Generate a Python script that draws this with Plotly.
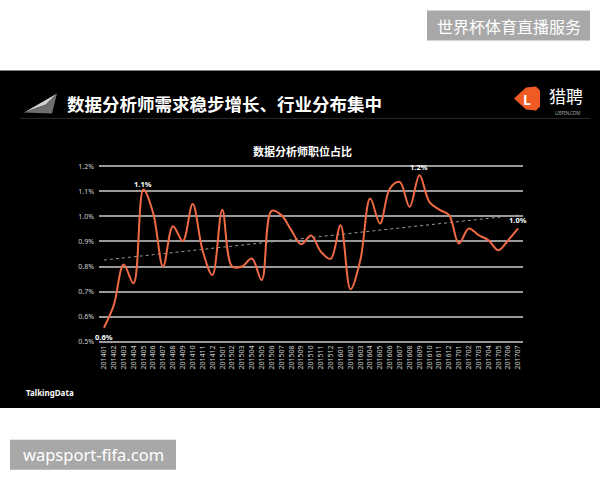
import plotly.graph_objects as go
import numpy as np

# ---------------- data ----------------
months = ["201401", "201402", "201403", "201404", "201405", "201406", "201407", "201408",
          "201409", "201410", "201411", "201412", "201501", "201502", "201503", "201504",
          "201505", "201506", "201507", "201508", "201509", "201510", "201511", "201512",
          "201601", "201602", "201603", "201604", "201605", "201606", "201607", "201608",
          "201609", "201610", "201611", "201612", "201701", "201702", "201703", "201704",
          "201705", "201706", "201707"]
share_pct = [0.556, 0.646, 0.808, 0.733, 1.107, 1.012, 0.800, 0.961, 0.902, 1.049,
             0.865, 0.766, 1.027, 0.800, 0.800, 0.832, 0.746, 1.022, 1.005, 0.945,
             0.889, 0.924, 0.859, 0.831, 0.965, 0.709, 0.825, 1.071, 0.972, 1.111,
             1.137, 1.038, 1.164, 1.058, 1.027, 1.005, 0.892, 0.952, 0.925, 0.905,
             0.865, 0.905, 0.952]
label_idx = [0, 4, 32, 42]
label_text = ["0.6%", "1.1%", "1.2%", "1.0%"]
label_shift = [-9, 6, 8, 8]
y_ticks = [0.5, 0.6, 0.7, 0.8, 0.9, 1.0, 1.1, 1.2]

headline = "数据分析师需求稳步增长、行业分布集中"
chart_title = "数据分析师职位占比"
source = "TalkingData"
brand = "猎聘"
brand_sub = "LIEPIN.COM"
wm_top = "世界杯体育直播服务"
wm_bottom = "wapsport-fifa.com"

# ---------------- geometry helpers (pixel -> paper) ----------------
PL, PR, PT, PB = 99.0, 523.0, 164.7, 343.0
W, H = 600, 480


def px(x):
    return (x - PL) / (PR - PL)


def py(y):
    return (PB - y) / (PB - PT)


def path(points):
    s = "M " + " L ".join(f"{px(x):.5f},{py(y):.5f}" for x, y in points) + " Z"
    return s


CJK = "Noto Sans CJK SC"
LAT = "Noto Sans"

# trend line from data (linear fit)
idx = np.arange(len(share_pct))
coef = np.polyfit(idx, share_pct, 1)
trend = np.polyval(coef, idx)

fig = go.Figure()
fig.add_trace(go.Scatter(x=months, y=trend, mode="lines",
                         line=dict(color="#9a9a9a", width=1, dash="dot"),
                         hoverinfo="skip"))
fig.add_trace(go.Scatter(x=months, y=share_pct, mode="lines",
                         line=dict(color="#ef6a45", width=2, shape="spline", smoothing=1.0)))

shapes = []
# black slide background
shapes.append(dict(type="rect", xref="paper", yref="paper", layer="below",
                   x0=px(0), x1=px(W), y0=py(408), y1=py(70),
                   fillcolor="black", line=dict(width=0)))
# faint header underline
shapes.append(dict(type="line", xref="paper", yref="paper", layer="below",
                   x0=px(20), x1=px(590), y0=py(118), y1=py(118),
                   line=dict(color="#2a2a2a", width=1)))
# left icon (pyramid / paper plane)
shapes.append(dict(type="path", xref="paper", yref="paper",
                   path=path([(24, 112), (57, 93), (46, 104)]),
                   fillcolor="#cfcfcf", line=dict(width=0)))
shapes.append(dict(type="path", xref="paper", yref="paper",
                   path=path([(24, 112), (46, 104), (57, 93), (52, 113)]),
                   fillcolor="#6e6e6e", line=dict(width=0)))
# orange logo
shapes.append(dict(type="path", xref="paper", yref="paper",
                   path=path([(514, 98), (526, 87), (536, 86), (540, 90), (540, 106),
                              (536, 110), (526, 109)]),
                   fillcolor="#f05a23", line=dict(width=0)))
# watermark boxes
shapes.append(dict(type="rect", xref="paper", yref="paper",
                   x0=px(427), x1=px(590), y0=py(40), y1=py(10),
                   fillcolor="#a8a8a8", line=dict(width=0)))
shapes.append(dict(type="rect", xref="paper", yref="paper",
                   x0=px(10), x1=px(176), y0=py(470), y1=py(440),
                   fillcolor="#a8a8a8", line=dict(width=0)))

ann = []


def text(x, y, t, size, color="white", family=CJK, bold=False, xanchor="center"):
    ann.append(dict(xref="paper", yref="paper", x=px(x), y=py(y), text=(f"<b>{t}</b>" if bold else t),
                    showarrow=False, xanchor=xanchor, yanchor="middle",
                    font=dict(size=size, color=color, family=family)))


text(65, 103, headline, 17.5, bold=True, xanchor="left")
text(302, 151, chart_title, 11, bold=True)
text(24, 393, source, 8, family=LAT, bold=True, xanchor="left")
text(527, 99, "L", 14, family=LAT, bold=True)
text(566, 95, brand, 17)
text(567, 113, brand_sub, 4.5, color="#aaaaaa", family=LAT)
text(508.5, 25, wm_top, 16)
text(93, 455, wm_bottom, 16.5, family=LAT)

for i, t, s in zip(label_idx, label_text, label_shift):
    ann.append(dict(x=i, y=share_pct[i], xref="x", yref="y", text=f"<b>{t}</b>",
                    showarrow=False, yshift=s, font=dict(size=7.5, color="white", family=LAT)))

fig.update_layout(
    width=W, height=H,
    margin=dict(l=PL, r=W - PR, t=PT, b=H - PB, pad=0),
    paper_bgcolor="white", plot_bgcolor="black",
    showlegend=False, shapes=shapes, annotations=ann,
    xaxis=dict(type="category", range=[-0.5, len(months) - 0.5], showgrid=False,
               tickangle=-90, tickfont=dict(size=7, color="#d0d0d0", family=LAT),
               ticks="", showline=False, zeroline=False),
    yaxis=dict(range=[0.495, 1.205], tickvals=y_ticks,
               ticktext=[f"{v:.1f}%" for v in y_ticks],
               gridcolor="#999999", gridwidth=2, zeroline=False, showline=False,
               ticklabelstandoff=4,
               tickfont=dict(size=7, color="#d0d0d0", family=LAT), ticks=""),
)

fig.write_html("out.html", config=dict(displayModeBar=False))
